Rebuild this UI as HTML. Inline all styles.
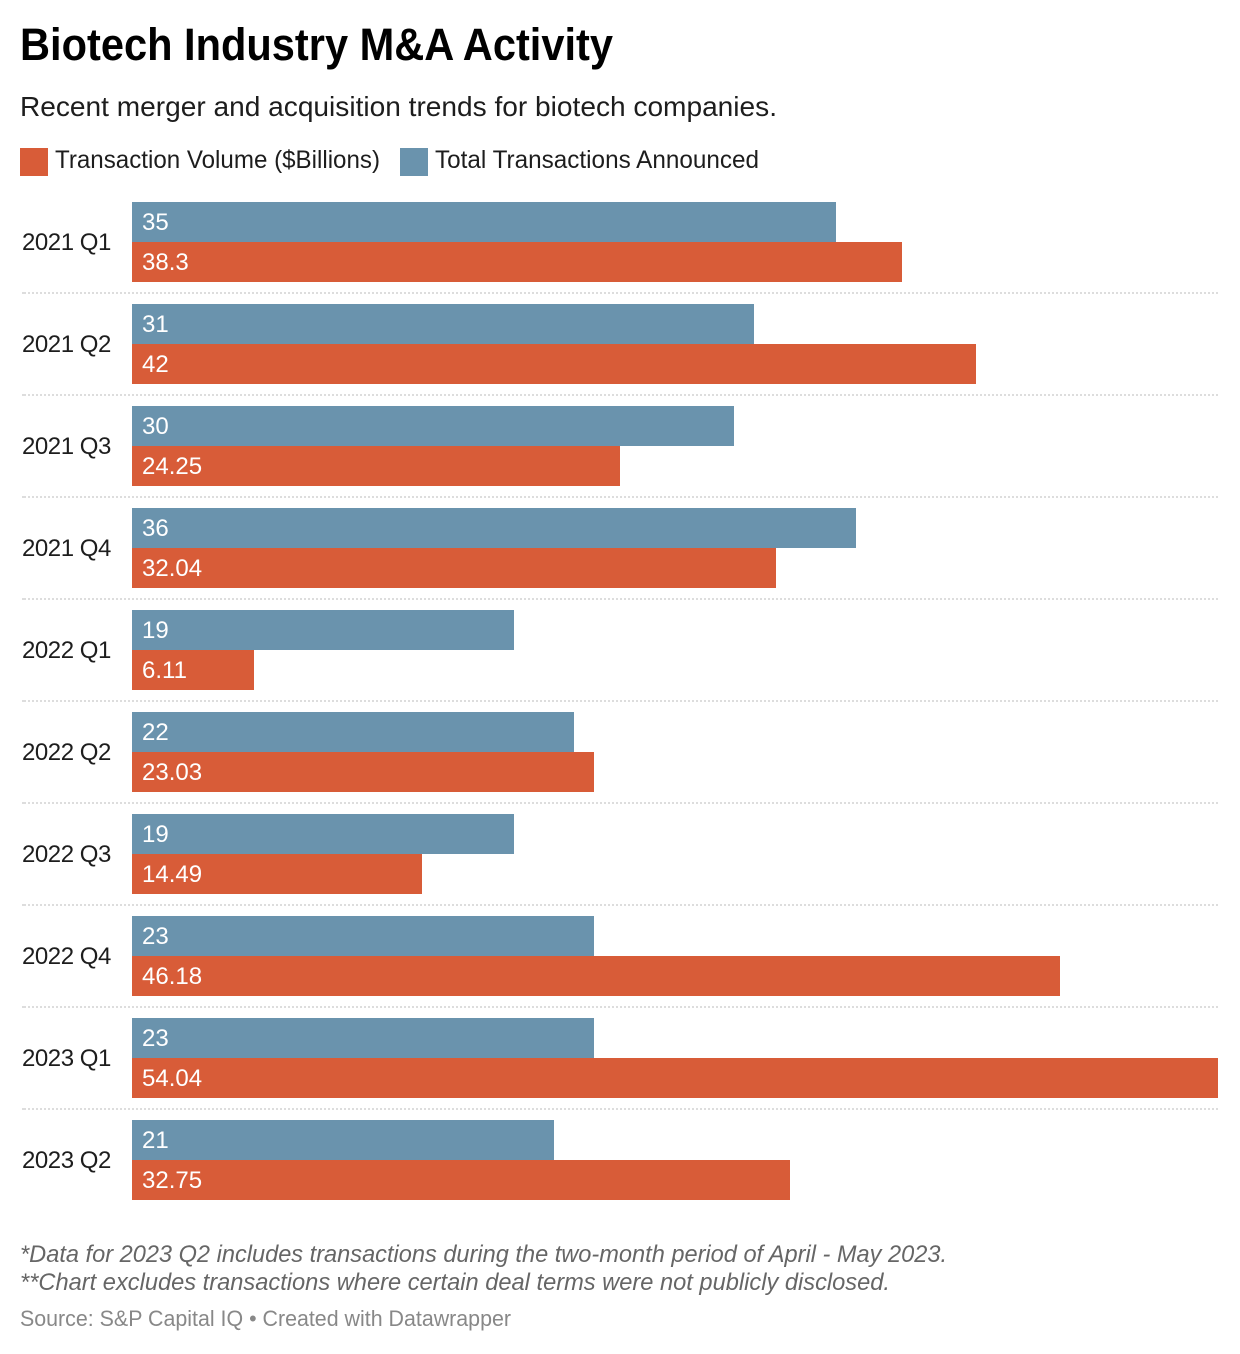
<!DOCTYPE html>
<html lang="en">
<head>
<meta charset="utf-8">
<title>Biotech Industry M&amp;A Activity</title>
<style>
html,body{margin:0;padding:0;background:#fff;}
svg{display:block;font-family:"Liberation Sans",Arial,sans-serif;}
</style>
</head>
<body>
<svg id="chart" xmlns="http://www.w3.org/2000/svg" width="1240" height="1354" viewBox="0 0 1240 1354">
  <rect x="0" y="0" width="1240" height="1354" fill="#ffffff"/>
  <text x="20" y="60" font-size="45" font-weight="700" fill="#000000" textLength="593" lengthAdjust="spacingAndGlyphs">Biotech Industry M&amp;A Activity</text>
  <text x="20" y="116" font-size="28" fill="#1d1d1d" textLength="757" lengthAdjust="spacingAndGlyphs">Recent merger and acquisition trends for biotech companies.</text>
  <g>
    <rect x="20" y="148" width="28" height="28" fill="#d85c38"/>
    <text x="55" y="168" font-size="25" fill="#1d1d1d" textLength="325" lengthAdjust="spacingAndGlyphs">Transaction Volume ($Billions)</text>
    <rect x="400" y="148" width="28" height="28" fill="#6a93ad"/>
    <text x="435" y="168" font-size="25" fill="#1d1d1d" textLength="324" lengthAdjust="spacingAndGlyphs">Total Transactions Announced</text>
  </g>
  <g id="plot"></g>
  <text x="20" y="1262" font-size="24" font-style="italic" fill="#666666" textLength="927" lengthAdjust="spacingAndGlyphs">*Data for 2023 Q2 includes transactions during the two-month period of April - May 2023.</text>
  <text x="20" y="1290" font-size="24" font-style="italic" fill="#666666" textLength="870" lengthAdjust="spacingAndGlyphs">**Chart excludes transactions where certain deal terms were not publicly disclosed.</text>
  <text x="20" y="1326" font-size="22" fill="#888888" textLength="491" lengthAdjust="spacingAndGlyphs">Source: S&amp;P Capital IQ • Created with Datawrapper</text>
</svg>
<script>
const categories = ["2021 Q1","2021 Q2","2021 Q3","2021 Q4","2022 Q1","2022 Q2","2022 Q3","2022 Q4","2023 Q1","2023 Q2"];
const totalTransactions = [35,31,30,36,19,22,19,23,23,21];
const transactionVolume = [38.3,42,24.25,32.04,6.11,23.03,14.49,46.18,54.04,32.75];
const volumeLabels = ["38.3","42","24.25","32.04","6.11","23.03","14.49","46.18","54.04","32.75"];

const plot = document.getElementById('plot');
const NS = 'http://www.w3.org/2000/svg';
const domainMax = Math.max(...totalTransactions, ...transactionVolume);
// bar length on the value axis, snapped to the 2px device grid of the source chart
function xScale(v){ return Math.floor((v / domainMax) * 1086 / 2 + 0.35) * 2; }
function rowTop(i){ return 202 + i * 102; }
function make(tag, attrs, text){
  const el = document.createElementNS(NS, tag);
  for (const k in attrs) el.setAttribute(k, attrs[k]);
  if (text !== undefined) el.textContent = text;
  plot.appendChild(el);
  return el;
}
categories.forEach(function(cat, i){
  const top = rowTop(i);
  const slug = cat.toLowerCase().replace(' ', '-');

  const label = make('text', {x:22, y:top+48, 'font-size':24, fill:'#1d1d1d', 'letter-spacing':'-0.45'}, cat);
  
  

  const blue = make('rect', {x:132, y:top, width:xScale(totalTransactions[i]), height:40, fill:'#6a93ad'});
  
  

  const orange = make('rect', {x:132, y:top+40, width:xScale(transactionVolume[i]), height:40, fill:'#d85c38'});
  
  

  const blueValue = make('text', {x:142, y:top+28, 'font-size':24, fill:'#ffffff'}, String(totalTransactions[i]));
  
  

  const orangeValue = make('text', {x:142, y:top+68, 'font-size':24, fill:'#ffffff'}, volumeLabels[i]);
  
  

  if (i < categories.length - 1) {
    const stub = make('line', {x1:22, x2:24, y1:top+91, y2:top+91, stroke:'#dddddd', 'stroke-width':2});
    
    

    const sep = make('line', {x1:24, x2:1218, y1:top+91, y2:top+91, stroke:'#dddddd', 'stroke-width':2, 'stroke-dasharray':'2 2'});
    
    
  }
});
</script>
</body>
</html>
